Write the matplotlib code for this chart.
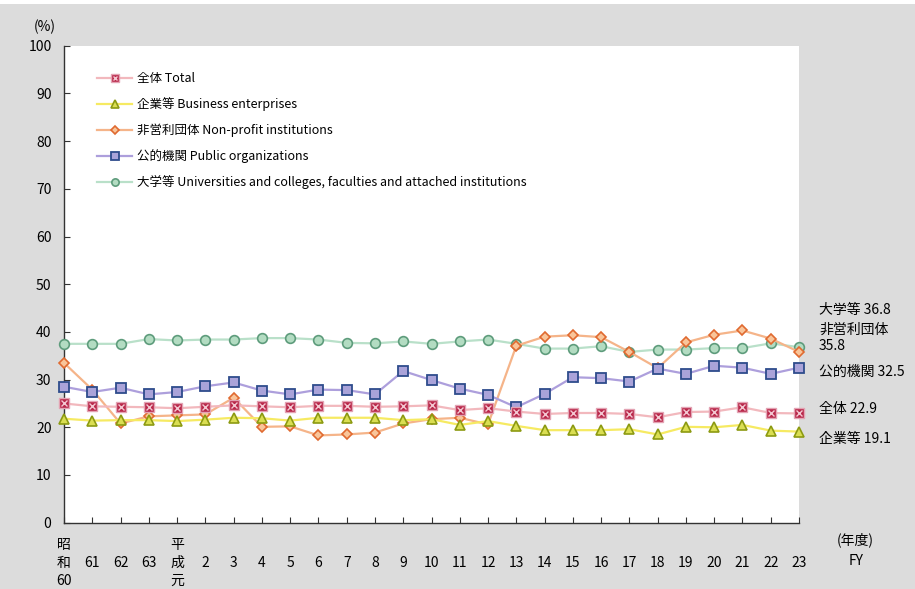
import matplotlib.pyplot as plt
from matplotlib.legend_handler import HandlerTuple
from matplotlib.patches import Rectangle

plt.rcParams['font.family'] = ['Noto Sans CJK JP', 'DejaVu Sans']

# fiscal years 昭和60 .. 平成23
years = ['昭\n和\n60', '61', '62', '63', '平\n成\n元'] + [str(i) for i in range(2, 24)]

total = [25.0, 24.4, 24.3, 24.2, 24.0, 24.3, 24.6, 24.4, 24.2, 24.5, 24.5, 24.3, 24.4, 24.6,
         23.6, 24.0, 23.3, 22.8, 23.0, 23.0, 22.8, 22.1, 23.2, 23.3, 24.2, 23.0, 22.9]
business = [21.8, 21.4, 21.5, 21.5, 21.3, 21.6, 22.0, 21.9, 21.4, 22.0, 22.0, 22.0, 21.5, 21.7,
            20.5, 21.3, 20.3, 19.4, 19.4, 19.4, 19.6, 18.5, 20.1, 20.0, 20.5, 19.3, 19.1]
nonprofit = [33.5, 27.9, 20.8, 22.3, 22.5, 22.7, 26.2, 20.1, 20.2, 18.3, 18.5, 18.9, 20.8, 21.7,
             22.0, 20.6, 37.1, 39.0, 39.3, 38.9, 35.8, 32.4, 37.8, 39.4, 40.3, 38.6, 35.8]
public = [28.5, 27.4, 28.3, 26.9, 27.4, 28.6, 29.4, 27.7, 26.9, 27.9, 27.8, 26.9, 31.8, 29.9,
          28.1, 26.8, 24.2, 27.0, 30.5, 30.3, 29.6, 32.3, 31.2, 32.9, 32.5, 31.2, 32.5]
univ = [37.5, 37.5, 37.5, 38.5, 38.2, 38.4, 38.4, 38.7, 38.7, 38.4, 37.7, 37.6, 38.0, 37.5,
        38.0, 38.4, 37.5, 36.5, 36.5, 37.0, 35.8, 36.3, 36.3, 36.6, 36.6, 37.6, 36.8]

labels = ['全体 Total', '企業等 Business enterprises', '非営利団体 Non-profit institutions',
          '公的機関 Public organizations',
          '大学等 Universities and colleges, faculties and attached institutions']

end_labels = ['大学等 36.8', '非営利団体\n35.8', '公的機関 32.5', '全体 22.9', '企業等 19.1']

fig = plt.figure(figsize=(9.15, 5.89), dpi=100, facecolor='#dcdcdc')
fig.patches.append(Rectangle((0, 1 - 4 / 589), 1, 4 / 589, transform=fig.transFigure,
                             facecolor='white', edgecolor='none'))
ax = fig.add_axes([64 / 915, 1 - 522.7 / 589, 735 / 915, 477 / 589])
ax.set_facecolor('white')

x = list(range(len(years)))
lw = 1.6

l_univ, = ax.plot(x, univ, color='#b9e0c9', lw=lw, marker='o', ms=7,
                  mfc='#b3dcc2', mec='#5e9c7c', mew=1.2, clip_on=False, zorder=3)
l_np, = ax.plot(x, nonprofit, color='#f5b489', lw=lw, marker='D', ms=5.5,
                mfc='#f9c59a', mec='#e06a30', mew=1.2, clip_on=False, zorder=4)
l_pub, = ax.plot(x, public, color='#ad9fdc', lw=lw, marker='s', ms=7.5,
                 mfc='#aaa3d9', mec='#2e4c8c', mew=1.3, clip_on=False, zorder=5)
l_tot, = ax.plot(x, total, color='#f2b8bd', lw=lw, marker='s', ms=7.5,
                 mfc='#b9294b', mec='#e3a3b3', mew=1.0, clip_on=False, zorder=6)
l_totx, = ax.plot(x, total, ls='none', marker='x', ms=4.5, mec='#f4c8d2', mew=1.0,
                  clip_on=False, zorder=7)
l_bus, = ax.plot(x, business, color='#f6ea62', lw=lw, marker='^', ms=7.5,
                 mfc='#dade52', mec='#8c9a12', mew=1.2, clip_on=False, zorder=5)

ax.set_xlim(0, len(years) - 1)
ax.set_ylim(0, 100)
ax.set_yticks(range(0, 101, 10))
ax.set_xticks(x)
ax.set_xticklabels(years, fontsize=10, linespacing=1.38)
for t in ax.get_xticklabels():
    t.set_verticalalignment('center')
ax.tick_params(axis='x', direction='in', length=4, pad=29, colors='#333333', labelcolor='black')
ax.tick_params(axis='y', direction='in', length=4, pad=9, labelsize=10, colors='#333333',
               labelcolor='black')
for s in ['top', 'right']:
    ax.spines[s].set_visible(False)
for s in ['left', 'bottom']:
    ax.spines[s].set_color('#333333')
    ax.spines[s].set_linewidth(1.0)

fig.text(45 / 915, 1 - 27 / 589, '(%)', fontsize=10, ha='center', va='center')
fig.text(855 / 915, 1 - 540 / 589, '(年度)', fontsize=10, ha='center', va='center')
fig.text(856 / 915, 1 - 561 / 589, 'FY', fontsize=10, ha='center', va='center')

end_y = [310, 338, 372, 409, 439]
for lab, yy in zip(end_labels, end_y):
    fig.text(819 / 915, 1 - yy / 589, lab, fontsize=10, ha='left', va='center', linespacing=1.25)

leg = ax.legend([(l_tot, l_totx), l_bus, l_np, l_pub, l_univ], labels,
                handler_map={tuple: HandlerTuple(ndivide=1)},
                loc='upper left', bbox_to_anchor=(97 / 915, 1 - 72 / 589),
                bbox_transform=fig.transFigure, frameon=False, fontsize=9,
                handlelength=2.8, handletextpad=0.4, labelspacing=0.98, markerscale=0.75,
                borderpad=0, borderaxespad=0)

plt.savefig('out.png', dpi=100, facecolor=fig.get_facecolor())
plt.close()
